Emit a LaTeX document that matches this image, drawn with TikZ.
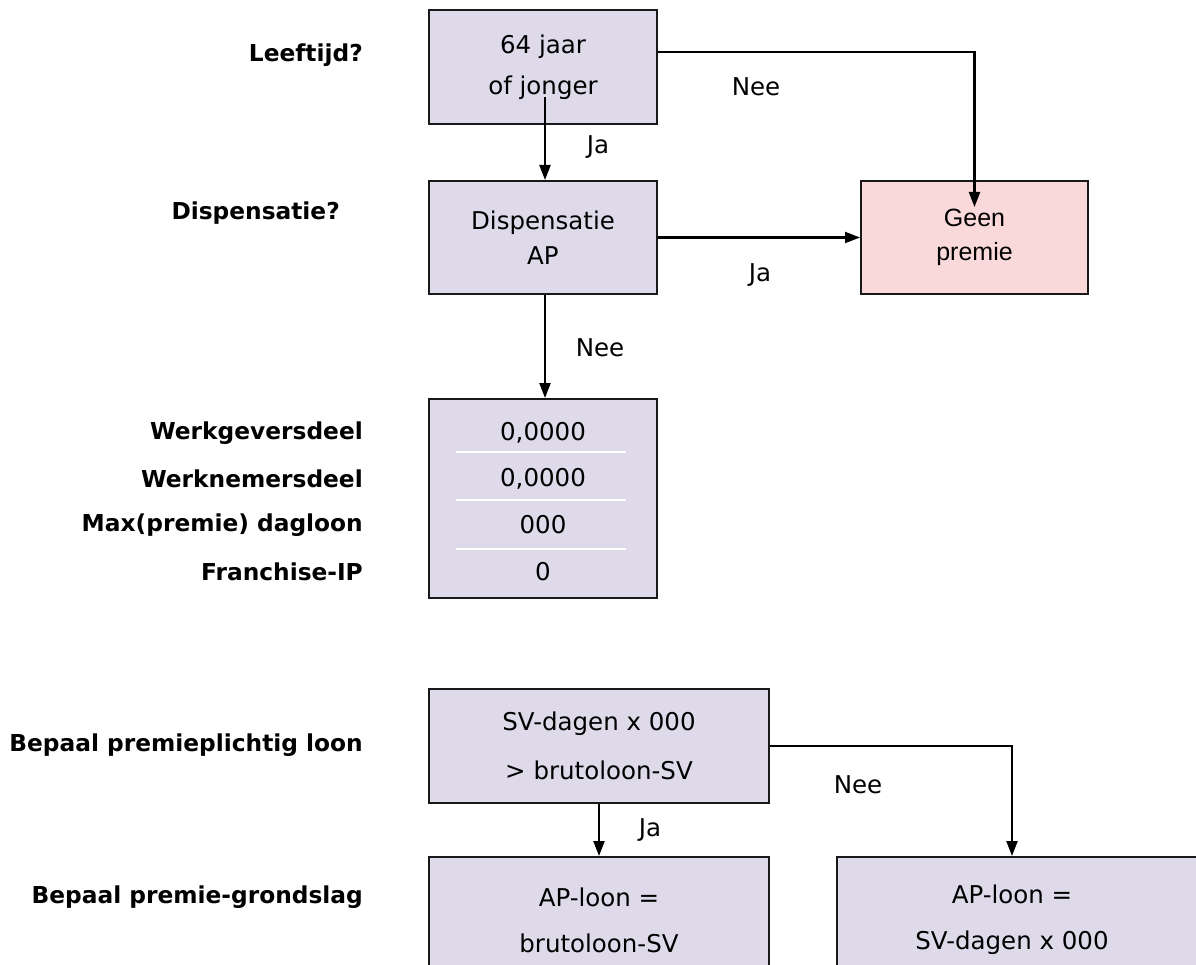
\documentclass[tikz,border=0pt]{standalone}
\usepackage{fontspec}
\usetikzlibrary{arrows.meta}
\newfontfamily\vf{DejaVu Sans}
\newfontfamily\af{Liberation Sans}
\definecolor{lav}{HTML}{DEDAEA}
\definecolor{pinkbox}{HTML}{F9D9D9}
\tikzset{
  box/.style={draw=black!90, line width=2pt, fill=lav, inner sep=0pt, align=center,
    font=\vf\fontsize{24.5}{46}\selectfont},
  pbox/.style={box, fill=pinkbox, font=\af\fontsize{25}{34}\selectfont},
  lbl/.style={font=\vf\bfseries\fontsize{23.3}{27}\selectfont, anchor=east, inner sep=0pt},
  edgelbl/.style={font=\vf\fontsize{24.5}{27}\selectfont, inner sep=0pt},
  val/.style={font=\vf\fontsize{24.5}{27}\selectfont, inner sep=0pt},
  arr/.style={line width=2.2pt, -{Triangle[width=11pt,length=15pt]}},
  sep/.style={white, line width=2pt}
}
\begin{document}
\begin{tikzpicture}[x=1pt,y=-1pt]
\useasboundingbox (0,0) rectangle (1196,965);
\clip (0,0) rectangle (1196,965);
% left labels
\node[lbl] (l1) at (363,55) {Leeftijd?};
\node[lbl] (l2) at (340,213) {Dispensatie?};
\node[lbl] (l3) at (363,433) {Werkgeversdeel};
\node[lbl] (l4) at (363,479) {Werknemersdeel};
\node[lbl] (l5) at (363,525) {Max(premie) dagloon};
\node[lbl] (l6) at (363,572) {Franchise-IP};
\node[lbl] (l7) at (363,745) {Bepaal premieplichtig loon};
\node[lbl] (l8) at (363,897) {Bepaal premie-grondslag};
% boxes
\node[box, minimum width=228pt, minimum height=114pt, font=\vf\fontsize{24.5}{41}\selectfont] (b1) at (543,67) {64 jaar\\of jonger};
\node[box, minimum width=228pt, minimum height=113pt, font=\vf\fontsize{24.5}{35}\selectfont] (disp) at (543,237.5) {Dispensatie\\AP};
\node[pbox, minimum width=227pt, minimum height=113pt] (geen) at (974.5,237.5) {Geen\\premie};
\node[box, minimum width=228pt, minimum height=199pt] (tab) at (543,498.5) {};
\node[val] (v1) at (543,433) {0,0000};
\node[val] (v2) at (543,479) {0,0000};
\node[val] (v3) at (543,525) {000};
\node[val] (v4) at (543,572) {0};
\coordinate (s1a) at (456,452); \coordinate (s1b) at (626,452);
\coordinate (s2a) at (456,500); \coordinate (s2b) at (626,500);
\coordinate (s3a) at (456,549); \coordinate (s3b) at (626,549);
\draw[sep] (s1a) -- (s1b);
\draw[sep] (s2a) -- (s2b);
\draw[sep] (s3a) -- (s3b);
\node[box, minimum width=340pt, minimum height=114pt, font=\vf\fontsize{24.5}{49}\selectfont] (sv) at (599,746) {SV-dagen x 000\\> brutoloon-SV};
\node[box, minimum width=340pt, minimum height=126pt] (apl) at (599,920) {AP-loon =\\brutoloon-SV};
\node[box, minimum width=363pt, minimum height=126pt] (apr) at (1018.5,920) {};
\node[box, draw=none, fill=none] (aprt) at (1012,920) {AP-loon =\\SV-dagen x 000};
% connectors
\draw[arr] ([yshift=15pt]b1.east) -| ([yshift=-27pt]geen.north);
\draw[arr] ([yshift=28pt,xshift=2pt]b1.south) -- ([xshift=2pt]disp.north);
\draw[arr] (disp.east) -- (geen.west);
\draw[arr] ([xshift=2pt]disp.south) -- ([xshift=2pt]tab.north);
\draw[arr] (sv.south) -- (apl.north);
\draw[arr] (sv.east) -| (aprt |- apr.north);
% edge labels
\node[edgelbl] (n1) at (756,87) {Nee};
\node[edgelbl] (j1) at (598,147) {Ja};
\node[edgelbl] (j2) at (760,275) {Ja};
\node[edgelbl] (n2) at (600,348) {Nee};
\node[edgelbl] (j3) at (650,830) {Ja};
\node[edgelbl] (n3) at (858,785) {Nee};
\end{tikzpicture}
\end{document}
